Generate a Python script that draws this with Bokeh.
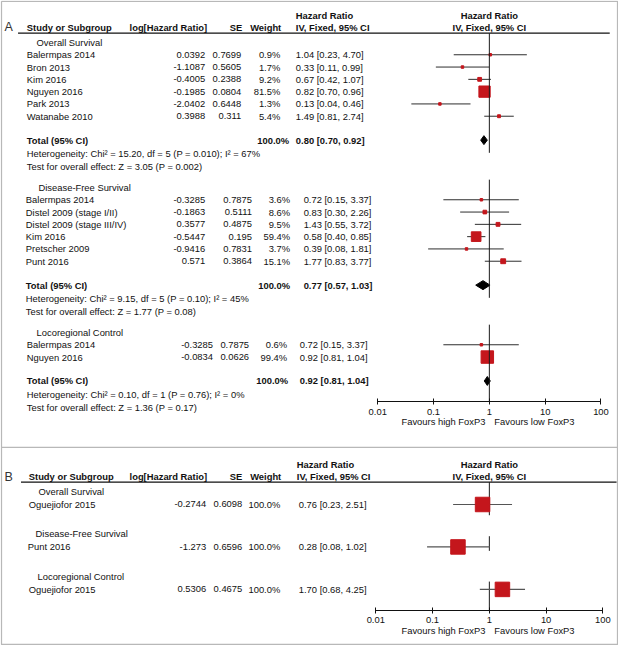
import math
from bokeh.plotting import figure
from bokeh.models import (Range1d, LogScale, LogAxis, FixedTicker, NumeralTickFormatter,
                          ColumnDataSource)
from bokeh.core.properties import value
from bokeh.embed import file_html
from bokeh.resources import INLINE

# ---------------- data ----------------
# Panel A
os_study = ["Balermpas 2014", "Bron 2013", "Kim 2016", "Nguyen 2016", "Park 2013", "Watanabe 2010"]
os_loghr = [0.0392, -1.1087, -0.4005, -0.1985, -2.0402, 0.3988]
os_se = [0.7699, 0.5605, 0.2388, 0.0804, 0.6448, 0.311]
os_weight = [0.9, 1.7, 9.2, 81.5, 1.3, 5.4]
os_hr = [1.04, 0.33, 0.67, 0.82, 0.13, 1.49]
os_lo = [0.23, 0.11, 0.42, 0.70, 0.04, 0.81]
os_hi = [4.70, 0.99, 1.07, 0.96, 0.46, 2.74]
os_total = [0.80, 0.70, 0.92]
os_het = "Heterogeneity: Chi\u00b2 = 15.20, df = 5 (P = 0.010); I\u00b2 = 67%"
os_test = "Test for overall effect: Z = 3.05 (P = 0.002)"

dfs_study = ["Balermpas 2014", "Distel 2009 (stage I/II)", "Distel 2009 (stage III/IV)",
             "Kim 2016", "Pretscher 2009", "Punt 2016"]
dfs_loghr = [-0.3285, -0.1863, 0.3577, -0.5447, -0.9416, 0.571]
dfs_se = [0.7875, 0.5111, 0.4875, 0.195, 0.7831, 0.3864]
dfs_weight = [3.6, 8.6, 9.5, 59.4, 3.7, 15.1]
dfs_hr = [0.72, 0.83, 1.43, 0.58, 0.39, 1.77]
dfs_lo = [0.15, 0.30, 0.55, 0.40, 0.08, 0.83]
dfs_hi = [3.37, 2.26, 3.72, 0.85, 1.81, 3.77]
dfs_total = [0.77, 0.57, 1.03]
dfs_het = "Heterogeneity: Chi\u00b2 = 9.15, df = 5 (P = 0.10); I\u00b2 = 45%"
dfs_test = "Test for overall effect: Z = 1.77 (P = 0.08)"

lrc_study = ["Balermpas 2014", "Nguyen 2016"]
lrc_loghr = [-0.3285, -0.0834]
lrc_se = [0.7875, 0.0626]
lrc_weight = [0.6, 99.4]
lrc_hr = [0.72, 0.92]
lrc_lo = [0.15, 0.81]
lrc_hi = [3.37, 1.04]
lrc_total = [0.92, 0.81, 1.04]
lrc_het = "Heterogeneity: Chi\u00b2 = 0.10, df = 1 (P = 0.76); I\u00b2 = 0%"
lrc_test = "Test for overall effect: Z = 1.36 (P = 0.17)"

total_weight = 100.0

# Panel B
b_subgroups = ["Overall Survival", "Disease-Free Survival", "Locoregional Control"]
b_study = ["Oguejiofor 2015", "Punt 2016", "Oguejiofor 2015"]
b_loghr = [-0.2744, -1.273, 0.5306]
b_se = [0.6098, 0.6596, 0.4675]
b_weight = [100.0, 100.0, 100.0]
b_hr = [0.76, 0.28, 1.70]
b_lo = [0.23, 0.08, 0.68]
b_hi = [2.51, 1.02, 4.25]

subgroups_a = ["Overall Survival", "Disease-Free Survival", "Locoregional Control"]
tick_values = [0.01, 0.1, 1, 10, 100]
tick_labels = ["0.01", "0.1", "1", "10", "100"]
favours = ["Favours high FoxP3", "Favours low FoxP3"]

# ---------------- layout helpers ----------------
W_REF, H_REF = 634, 661
FONT = "Liberation Sans"
FS = "9.4px"
RED = "#c4161c"
INK = "#111111"


def log_range(x001, x100):
    dec = (x100 - x001) / 4.0
    return Range1d(10 ** (-2 - x001 / dec), 10 ** (2 + (W_REF - x100) / dec))


p = figure(width=618, height=645, x_range=Range1d(0, W_REF), y_range=Range1d(H_REF, 0),
           output_backend="svg", toolbar_location=None,
           x_axis_location=None, y_axis_location=None,
           min_border=0, outline_line_color=None,
           extra_x_ranges={"hrA": log_range(387, 616), "hrB": log_range(385, 618)},
           extra_x_scales={"hrA": LogScale(), "hrB": LogScale()})
p.grid.visible = False
p.background_fill_color = "white"


def add_text(xs, ys, texts, align="left", bold=False, size=FS, rng="default", dx=0, color=INK):
    src = ColumnDataSource(dict(x=list(xs), y=list(ys), t=list(texts)))
    p.text(x="x", y="y", text="t", source=src, x_range_name=rng, x_offset=dx,
           text_align=align, text_baseline="middle", text_font=value(FONT),
           text_font_size=value(size), text_font_style="bold" if bold else "normal",
           text_color=color)


def fmt_ci(hr, lo, hi):
    return f"{hr:.2f} [{lo:.2f}, {hi:.2f}]"


# ---------------- frame ----------------
p.multi_line(xs=[[1, 633, 633, 1, 1], [1, 633]], ys=[[0.8, 0.8, 660, 660, 0.8], [458, 458]],
             line_color="#b8b8b8", line_width=1.3)


def header(y1, y2, line_y, x_name, x_line0, x_line1, hr_left, rng, letter, letter_x, letter_y):
    add_text([letter_x], [letter_y], [letter], size="12.5px", color="#333333")
    add_text([hr_left], [y1], ["Hazard Ratio"], bold=True)
    add_text([hr_left], [y2], ["IV, Fixed, 95% CI"], bold=True)
    add_text([x_name], [y2], ["Study or Subgroup"], bold=True)
    add_text([212, 248, 288], [y2] * 3, ["log[Hazard Ratio]", "SE", "Weight"], align="right", bold=True)
    add_text([1, 1], [y1, y2], ["Hazard Ratio", "IV, Fixed, 95% CI"], align="center", bold=True, rng=rng)
    p.segment(x0=[x_line0], x1=[x_line1], y0=[line_y], y1=[line_y], line_color="#111111", line_width=1.3)


def axis(rng, y_axis, y_fav):
    ax = LogAxis(x_range_name=rng, fixed_location=y_axis, bounds=(tick_values[0], tick_values[-1]),
                 ticker=FixedTicker(ticks=tick_values, minor_ticks=[]),
                 formatter=NumeralTickFormatter(format="0.[00]"),
                 major_label_overrides={float(v): l for v, l in zip(tick_values, tick_labels)},
                 major_label_text_font=FONT, major_label_text_font_size=FS,
                 major_label_text_color=INK, major_label_standoff=4,
                 major_tick_in=3, major_tick_out=3, major_tick_line_color="#111111",
                 axis_line_color="#111111", axis_line_width=1, minor_tick_line_color=None)
    p.add_layout(ax, "below")
    add_text([1], [y_fav], [favours[0]], align="right", rng=rng, dx=-4)
    add_text([1], [y_fav], [favours[1]], align="left", rng=rng, dx=5)


# ---------------- Panel A ----------------
header(15, 28, 33.5, 27, 18, 625, 303, "hrA", "A", 4, 27)

groups_a = [
    (subgroups_a[0], os_study, os_loghr, os_se, os_weight, os_hr, os_lo, os_hi, os_total, os_het, os_test),
    (subgroups_a[1], dfs_study, dfs_loghr, dfs_se, dfs_weight, dfs_hr, dfs_lo, dfs_hi, dfs_total, dfs_het, dfs_test),
    (subgroups_a[2], lrc_study, lrc_loghr, lrc_se, lrc_weight, lrc_hr, lrc_lo, lrc_hi, lrc_total, lrc_het, lrc_test),
]
# column placements per group (the reference's columns drift a little between groups)
cols_a = [
    dict(name=27, title=37, lhr=210, se=247, w=287, wt=296, hr=303),
    dict(name=26, title=39, lhr=210, se=258, w=297, wt=297, hr=311),
    dict(name=27, title=37, lhr=218, se=255, w=294, wt=295, hr=307),
]
AXIS_A = 411
STEP = 12.6
y = 43
ref_top, ref_bot = [], []
for gi, (g, c) in enumerate(zip(groups_a, cols_a)):
    title, study, lhr, se, w, hr, lo, hi, tot, het, test = g
    title_y = y
    ys = [title_y + STEP * (i + 1) for i in range(len(study))]
    total_y = ys[-1] + 24.5
    het_y = total_y + 14
    test_y = het_y + 13
    y = test_y + 21.5

    add_text([c["title"]], [title_y], [title])
    add_text([c["name"]] * len(study), ys, study)
    add_text([c["lhr"]] * len(study), ys, [str(v) for v in lhr], align="right")
    add_text([c["se"]] * len(study), ys, [str(v) for v in se], align="right")
    add_text([c["w"]] * len(study), ys, [f"{v:.1f}%" for v in w], align="right")
    add_text([c["hr"]] * len(study), ys, [fmt_ci(a, b, d) for a, b, d in zip(hr, lo, hi)])
    add_text([c["name"]], [total_y], ["Total (95% CI)"], bold=True)
    add_text([c["wt"]], [total_y], [f"{total_weight:.1f}%"], align="right", bold=True)
    add_text([c["hr"]], [total_y], [fmt_ci(*tot)], bold=True)
    add_text([c["name"]] * 2, [het_y, test_y], [het, test])

    p.segment(x0=lo, x1=hi, y0=ys, y1=ys, line_color="#2e2e2e", line_width=1, x_range_name="hrA")
    p.scatter(x=hr, y=ys, size=[max(2.5, 1.25 * math.sqrt(v)) for v in w], marker="square",
              fill_color=RED, line_color=RED, x_range_name="hrA")
    est, tlo, thi = tot
    p.patches(xs=[[tlo, est, thi, est]], ys=[[total_y, total_y - 4.6, total_y, total_y + 4.6]],
              fill_color="black", line_color="black", x_range_name="hrA")

    ref_top.append(33.5 if gi == 0 else title_y - 8)
    ref_bot.append(AXIS_A if gi == len(groups_a) - 1 else total_y + 13)

p.segment(x0=[1] * 3, x1=[1] * 3, y0=ref_top, y1=ref_bot, line_color="#1a1a1a", line_width=1,
          x_range_name="hrA")
axis("hrA", AXIS_A, 431)

# ---------------- Panel B ----------------
header(476, 488, 493.5, 29, 21, 632, 304, "hrB", "B", 4, 488)
AXIS_B = 625
b_title_y = [503 + 43.5 * i for i in range(3)]
b_y = [t + 13.5 for t in b_title_y]
add_text([39, 36, 38], b_title_y, b_subgroups)
add_text([29, 28, 29], b_y, b_study)
add_text([211] * 3, b_y, [str(v) for v in b_loghr], align="right")
add_text([248] * 3, b_y, [str(v) for v in b_se], align="right")
add_text([287] * 3, b_y, [f"{v:.1f}%" for v in b_weight], align="right")
add_text([306] * 3, b_y, [fmt_ci(a, b, d) for a, b, d in zip(b_hr, b_lo, b_hi)])

p.segment(x0=[1] * 3, x1=[1] * 3, y0=[493.5, b_y[1] - 11, b_y[2] - 8], y1=[b_y[0] + 11, b_y[1] + 4, AXIS_B],
          line_color="#1a1a1a", line_width=1, x_range_name="hrB")
p.segment(x0=b_lo, x1=b_hi, y0=b_y, y1=b_y, line_color="#555555", line_width=1.2, x_range_name="hrB")
p.scatter(x=b_hr, y=b_y, size=[1.45 * math.sqrt(v) for v in b_weight], marker="square",
          fill_color=RED, line_color=RED, x_range_name="hrB")
axis("hrB", AXIS_B, 646)

open("out.html", "w").write(file_html(p, INLINE))
